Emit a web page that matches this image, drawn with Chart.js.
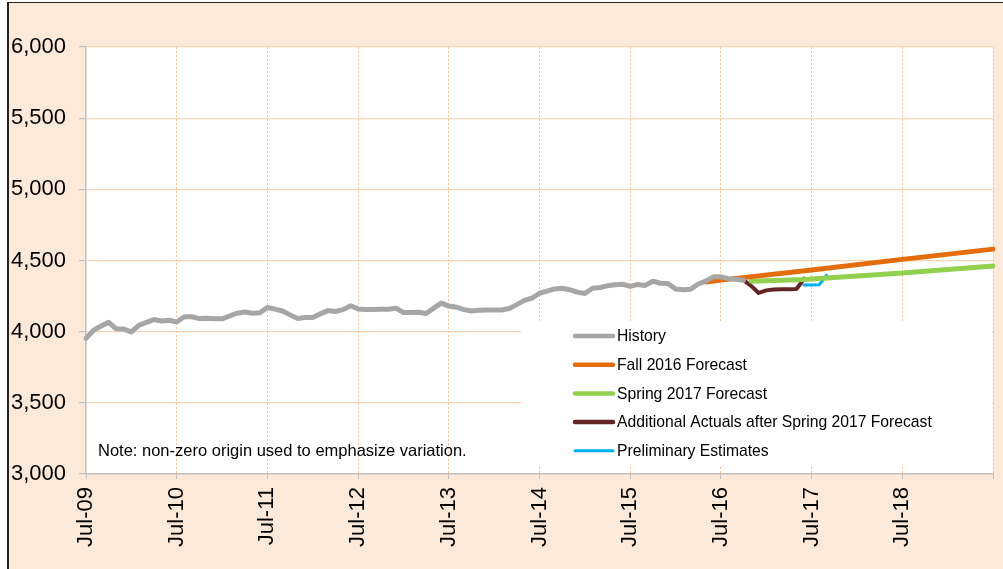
<!DOCTYPE html>
<html lang="en">
<head>
  <meta charset="UTF-8">
  <title>History and Forecasts</title>
  <script src="https://cdn.jsdelivr.net/npm/chart.js"></script>
  <style>
    html, body { margin: 0; padding: 0; background: #fff; }
    #frame {
      position: absolute; left: 7px; top: 2px; width: 996px; height: 567px;
      background: #FCE9DA; border-left: 2px solid #222; border-top: 1px solid #222;
      box-sizing: border-box;
    }
    #chart { position: absolute; left: 0; top: 0; }
  </style>
</head>
<body>
  <div id="frame"></div>
  <canvas id="chart" width="1003" height="569"></canvas>

  <script>
    // months Jul-09 .. Jul-19 (category axis)
    const monthNames = ['Jan','Feb','Mar','Apr','May','Jun','Jul','Aug','Sep','Oct','Nov','Dec'];
    const months = [];
    for (let i = 0; i <= 120; i++) {
      const m = (6 + i) % 12;
      const yr = 9 + Math.floor((6 + i) / 12);
      months.push(monthNames[m] + '-' + String(yr).padStart(2, '0'));
    }

    // History, monthly from Jul-09 to Oct-16
    const history = [
      3953, 4010, 4040, 4066, 4020, 4018, 3998, 4045, 4065, 4085, 4075, 4080,
      4068, 4105, 4105, 4092, 4094, 4090, 4090, 4110, 4130, 4138, 4130, 4133,
      4170, 4158, 4145, 4118, 4092, 4100, 4100, 4125, 4148, 4142, 4155, 4182,
      4160, 4155, 4155, 4157, 4158, 4165, 4135, 4135, 4136, 4128, 4165, 4200,
      4180, 4172, 4155, 4145, 4150, 4152, 4152, 4152, 4163, 4190, 4220, 4235,
      4270, 4285, 4300, 4305, 4295, 4278, 4268, 4305, 4310, 4322, 4330, 4333,
      4318, 4332, 4325, 4355, 4340, 4338, 4300, 4295, 4298, 4335, 4355, 4385,
      4385, 4372, 4368, 4362
    ];

    const fallMonths = ['May-16', 'Jul-16', 'Jul-17', 'Jul-18', 'Jul-19'];
    const fallValues = [4349, 4362, 4434, 4508, 4580];

    const springMonths = ['Nov-16', 'Jun-17', 'Jul-18', 'Jul-19'];
    const springValues = [4355, 4366, 4413, 4462];

    const actualMonths = ['Oct-16', 'Nov-16', 'Dec-16', 'Jan-17', 'Feb-17', 'Mar-17', 'Apr-17', 'May-17', 'Jun-17'];
    const actualValues = [4362, 4322, 4272, 4290, 4297, 4298, 4298, 4300, 4372];

    const prelimMonths = ['Jun-17', 'Jul-17', 'Aug-17', 'Sep-17'];
    const prelimValues = [4328, 4328, 4330, 4396];

    const yTicks = [3000, 3500, 4000, 4500, 5000, 5500, 6000];

    const pts = (ms, vs) => ms.map((m, i) => ({ x: m, y: vs[i] }));
    const FONT = '"Liberation Sans", Arial, sans-serif';
    const isYear = i => i % 12 === 0;

    // white plot area, white legend box inside the plot + note
    const legendBox = {
      id: 'legendBox',
      beforeDraw(chart) {
        const c = chart.ctx, a = chart.chartArea;
        c.save();
        c.fillStyle = '#fff';
        c.fillRect(a.left, a.top, a.right - a.left, a.bottom - a.top);
        c.restore();
      },
      beforeDatasetsDraw(chart) {
        const c = chart.ctx, a = chart.chartArea;
        c.save();
        c.fillStyle = '#fff';
        c.fillRect(a.right - 472, a.bottom - 153, 471, 144);
        c.restore();
      },
      afterDraw(chart) {
        const c = chart.ctx, a = chart.chartArea;
        c.save();
        c.fillStyle = '#000';
        c.textBaseline = 'middle';
        c.font = '16.5px ' + FONT;
        c.fillText('Note: non-zero origin used to emphasize variation.', a.left + 12, a.bottom - 23);

        c.font = '15.7px ' + FONT;
        const x0 = a.right - 418;
        chart.data.datasets.forEach((ds, i) => {
          const y = a.bottom - 138 + i * 28.7;
          c.strokeStyle = ds.borderColor;
          c.lineWidth = ds.legendWidth;
          c.lineCap = 'round';
          c.beginPath();
          c.moveTo(x0, y);
          c.lineTo(x0 + 38, y);
          c.stroke();
          c.fillText(ds.label, x0 + 42, y + 1);
        });
        c.restore();
      }
    };

    const ctx = document.getElementById('chart');
    new Chart(ctx, {
      type: 'line',
      data: {
        labels: months,
        datasets: [
          { label: 'History', data: history, borderColor: '#A6A6A6', borderWidth: 5, legendWidth: 4.5 },
          { label: 'Fall 2016 Forecast', data: pts(fallMonths, fallValues), borderColor: '#E46C0A', borderWidth: 5, legendWidth: 4.5 },
          { label: 'Spring 2017 Forecast', data: pts(springMonths, springValues), borderColor: '#92D050', borderWidth: 5, legendWidth: 4.5 },
          { label: 'Additional Actuals after Spring 2017 Forecast', data: pts(actualMonths, actualValues), borderColor: '#632523', borderWidth: 4, legendWidth: 4.5 },
          { label: 'Preliminary Estimates', data: pts(prelimMonths, prelimValues), borderColor: '#00B0F0', borderWidth: 3, legendWidth: 3 }
        ]
      },
      options: {
        responsive: false,
        animation: false,
        layout: { padding: { top: 47, right: 10, left: 0, bottom: 0 } },
        plugins: { legend: { display: false }, tooltip: { enabled: false } },
        elements: {
          point: { radius: 0 },
          line: { tension: 0, borderCapStyle: 'round', borderJoinStyle: 'round' }
        },
        scales: {
          x: {
            type: 'category',
            grid: {
              color: c => (isYear(c.index) && c.index > 0 ? '#F8C08E' : 'rgba(0,0,0,0)'),
              tickColor: c => (isYear(c.index) ? '#BFBFBF' : 'rgba(0,0,0,0)'),
              lineWidth: 1,
              tickLength: 5
            },
            border: { color: '#BFBFBF', width: 1.5, dash: [2, 2] },
            ticks: {
              autoSkip: false,
              minRotation: 90,
              maxRotation: 90,
              padding: 8,
              color: '#000',
              font: { family: FONT, size: 22 },
              callback: function (v, i) {
                return isYear(i) && i < 120 ? this.getLabelForValue(v) : '';
              }
            },
            afterFit: s => { s.height = 95; s.paddingLeft = 0; s.paddingRight = 0; }
          },
          y: {
            min: 3000,
            max: 6000,
            afterBuildTicks: s => { s.ticks = yTicks.map(v => ({ value: v })); },
            grid: {
              color: c => (c.index === 0 ? 'rgba(0,0,0,0)' : '#FBD4B4'),
              lineWidth: 1.2,
              tickLength: 7,
              tickColor: '#BFBFBF'
            },
            border: { color: '#BFBFBF', width: 1.5 },
            ticks: {
              padding: 13,
              color: '#000',
              font: { family: FONT, size: 22 },
              callback: v => v.toLocaleString('en-US')
            },
            afterFit: s => { s.width = 86; s.paddingTop = 0; s.paddingBottom = 0; }
          }
        }
      },
      plugins: [legendBox]
    });
  </script>
</body>
</html>
